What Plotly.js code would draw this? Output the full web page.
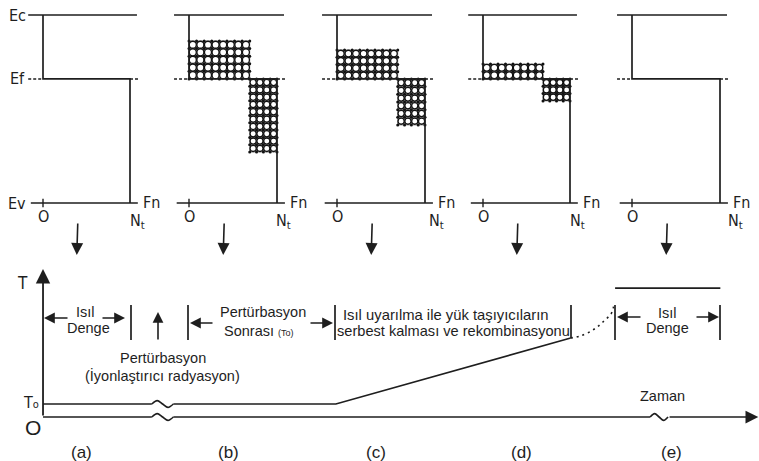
<!DOCTYPE html>
<html>
<head>
<meta charset="utf-8">
<script src="https://cdn.plot.ly/plotly-3.0.1.min.js"></script>
<style>html,body{margin:0;padding:0;background:#fff;}</style>
</head>
<body>
<div id="chart" style="width:759px;height:461px;"></div>
<script>
// ---------------- data ----------------
// Energy scale of the band panels: Ev = 0, Ec = 1
const levelNames = ['Ec', 'Ef', 'Ev'];
const levelValues = [1, 0.66, 0];
// trap occupancy runs from O to Nt
const Nt = 1;
const panelLabels = ['(a)', '(b)', '(c)', '(d)', '(e)'];
// highest energy reached by electron-filled traps (above Ef), per stage
const electronFillTop = [0.66, 0.862, 0.814, 0.739, 0.66];
// lowest energy reached by hole-filled traps (below Ef), per stage
const holeFillBottom = [0.66, 0.271, 0.415, 0.543, 0.66];
// occupancy where the electron and hole regions meet
const fillSplit = 0.69;

// Temperature history (T in units of T0, time in arbitrary units)
const holdTime = [0, 1.52, 1.82, 4.09, 7.37];
const holdTemp = [1, 1, 1, 1, 6.08];
const releaseTime = [7.37, 7.50, 7.68, 7.82, 7.95, 7.97];
const releaseTemp = [6.08, 6.23, 6.69, 7.31, 8.08, 8.69];
const equilibriumTime = [7.99, 9.46];
const equilibriumTemp = [9.92, 9.92];
// gaps on the time axis drawn as break marks [start, end]
const timeBreaks = [[1.52, 1.82], [8.48, 8.73]];
const timeEnd = 9.99;
const tempAxisTop = 11.38;

// ---------------- layout helpers ----------------
const W = 759, H = 461;
const px = x => x / W;
const py = y => 1 - y / H;
const INK = '#1e1e1e';
const SANS = 'Liberation Sans, Arial, Helvetica, sans-serif';
const NARROW = 'Liberation Sans Narrow, Arial Narrow, DejaVu Sans Condensed, Liberation Sans, sans-serif';

const panelLeft = [43, 189, 337, 483, 632];
const panelRight = [130, 277, 425, 570, 720];
const ntShift = [7, 6, 11, 7, 15];
const xRange = [-0.2, 1.2];
const eRange = [-0.0638, 1.0532];
const ePx = 188; // pixels per unit energy

const traces = [];
const shapes = [];
const annotations = [];
const layout = {
  width: W, height: H,
  margin: {l: 0, r: 0, t: 0, b: 0, pad: 0},
  paper_bgcolor: '#fff', plot_bgcolor: 'rgba(0,0,0,0)',
  showlegend: false, hovermode: false,
  yaxis: {domain: [py(215), py(5)], range: eRange, visible: false, fixedrange: true}
};

function line(xs, ys, xa, ya, extra) {
  traces.push(Object.assign({
    type: 'scatter', mode: 'lines', x: xs, y: ys, xaxis: xa, yaxis: ya,
    line: {color: INK, width: 1.7}, hoverinfo: 'skip', cliponaxis: false
  }, extra || {}));
}
function text(t, x, y, size, opts) {
  annotations.push(Object.assign({
    text: t, x: px(x), y: py(y), xref: 'paper', yref: 'paper', showarrow: false,
    font: {family: SANS, size: size, color: INK}, xanchor: 'center', yanchor: 'middle'
  }, opts || {}));
}
function arrow(xTip, yTip, xTail, yTail, size) {
  annotations.push({
    text: '', xref: 'paper', yref: 'paper', x: px(xTip), y: py(yTip),
    ax: xTail - xTip, ay: yTail - yTip, showarrow: true,
    arrowhead: 2, arrowsize: size || 1.4, arrowwidth: 1.6, arrowcolor: INK, standoff: 0
  });
}
function bar(x, y0, y1) {
  shapes.push({type: 'line', xref: 'paper', yref: 'paper', x0: px(x), x1: px(x),
    y0: py(y0), y1: py(y1), line: {color: INK, width: 1.7}});
}

// ---------------- band panels ----------------
const Ec = levelValues[0], Ef = levelValues[1], Ev = levelValues[2];
panelLabels.forEach((lab, i) => {
  const L = panelLeft[i], R = panelRight[i], Wp = R - L;
  const xa = i === 0 ? 'x' : 'x' + (i + 1);
  const key = i === 0 ? 'xaxis' : 'xaxis' + (i + 1);
  layout[key] = {domain: [px(L + xRange[0] * Wp), px(L + xRange[1] * Wp)], range: xRange,
    anchor: 'y', visible: false, fixedrange: true};

  // filled trap regions with a circle-mesh texture
  const boxes = [];
  if (electronFillTop[i] > Ef) boxes.push([0, fillSplit * Nt, Ef, electronFillTop[i]]);
  if (holeFillBottom[i] < Ef) boxes.push([fillSplit * Nt, Nt, holeFillBottom[i], Ef]);
  boxes.forEach(b => {
    shapes.push({type: 'rect', xref: xa, yref: 'y', x0: b[0], x1: b[1], y0: b[2], y1: b[3],
      fillcolor: '#8c8c8c', line: {color: '#9a9a9a', width: 1}, layer: 'below'});
    const wPx = (b[1] - b[0]) * Wp, hPx = (b[3] - b[2]) * ePx;
    const nc = Math.max(1, Math.round(wPx / 7.4)), nr = Math.max(1, Math.round(hPx / 7.4));
    const dx = (b[1] - b[0]) / nc, dy = (b[3] - b[2]) / nr;
    const cx = [], cy = [], jx = [], jy = [];
    for (let c = 0; c < nc; c++) for (let r = 0; r < nr; r++) {
      cx.push(b[0] + (c + 0.5) * dx); cy.push(b[2] + (r + 0.5) * dy);
    }
    for (let c = 0; c <= nc; c++) for (let r = 0; r <= nr; r++) {
      jx.push(b[0] + c * dx); jy.push(b[2] + r * dy);
    }
    const cell = Math.min(wPx / nc, hPx / nr);
    traces.push({type: 'scatter', mode: 'markers', x: cx, y: cy, xaxis: xa, yaxis: 'y',
      marker: {symbol: 'circle', size: cell - 0.6, color: '#fff', line: {color: '#111', width: 1.3}},
      hoverinfo: 'skip', cliponaxis: true});
    traces.push({type: 'scatter', mode: 'markers', x: jx, y: jy, xaxis: xa, yaxis: 'y',
      marker: {symbol: 'circle', size: 3, color: '#111'}, hoverinfo: 'skip', cliponaxis: true});
  });

  // Ec, Ef (dashed outside the step), Ev
  line([-0.17, 1.08], [Ec, Ec], xa, 'y');
  line([-0.17, 0], [Ef, Ef], xa, 'y', {line: {color: INK, width: 1.5, dash: '3px,2px'}});
  line([Nt, 1.11], [Ef, Ef], xa, 'y', {line: {color: INK, width: 1.5, dash: '3px,2px'}});
  line([-0.14, 1.09], [Ev, Ev], xa, 'y');
  // occupancy step: empty above Ef, full below
  line([0, 0, Nt, Nt], [Ec, Ef, Ef, Ev], xa, 'y');
  // origin tick
  line([0, 0], [Ev - 0.022, Ev + 0.022], xa, 'y', {line: {color: INK, width: 1.4}});

  const fa = {xref: xa, yref: 'y', showarrow: false, font: {family: NARROW, size: 16, color: INK}};
  annotations.push(Object.assign({}, fa, {text: 'Fn', x: 1.125, y: Ev, xanchor: 'left', yanchor: 'middle', yshift: 1}));
  annotations.push(Object.assign({}, fa, {text: 'N<sub>t</sub>', x: Nt, y: Ev, xanchor: 'center', yanchor: 'middle', xshift: ntShift[i], yshift: -18}));
  annotations.push(Object.assign({}, fa, {text: 'O', x: 0, y: Ev, xanchor: 'center', yanchor: 'middle', yshift: -13}));

  // stage arrow and stage label
  const ax = L + 0.4 * Wp;
  arrow(ax - 1, 255, ax, 222, 1.5);
  text(lab, ax + 4, 452, 17);
});

levelNames.forEach((n, k) => {
  annotations.push({text: n, x: px(17), y: levelValues[k], xref: 'paper', yref: 'y', showarrow: false,
    font: {family: NARROW, size: 16, color: INK}, xanchor: 'center', yanchor: 'middle'});
});

// ---------------- temperature vs time ----------------
layout.xaxis6 = {domain: [px(33), 1], range: [-0.14, 10.0], anchor: 'y2', visible: false, fixedrange: true};
layout.yaxis2 = {domain: [py(430), py(260)], range: [-1, 12.077], anchor: 'x6', visible: false, fixedrange: true};

function waveBreak(t0, t1, level) {
  const a = 0.26, w = t1 - t0;
  line([t0, t0 + 0.25 * w, t0 + 0.5 * w, t0 + 0.75 * w, t1], [level, level + a, level, level - a, level],
    'x6', 'y2', {line: {color: INK, width: 1.6, shape: 'spline'}});
}

// T0 hold, warming ramp
line(holdTime.slice(0, 2), holdTemp.slice(0, 2), 'x6', 'y2');
waveBreak(holdTime[1], holdTime[2], holdTemp[1]);
line(holdTime.slice(2), holdTemp.slice(2), 'x6', 'y2');
// release and recombination (dotted)
line(releaseTime, releaseTemp, 'x6', 'y2', {line: {color: INK, width: 1.6, dash: '2px,4px', shape: 'spline'}});
// final thermal equilibrium
line(equilibriumTime, equilibriumTemp, 'x6', 'y2');

// time axis with breaks
line([0, timeBreaks[0][0]], [0, 0], 'x6', 'y2');
waveBreak(timeBreaks[0][0], timeBreaks[0][1], 0);
line([timeBreaks[0][1], timeBreaks[1][0]], [0, 0], 'x6', 'y2');
waveBreak(timeBreaks[1][0], timeBreaks[1][1], 0);
annotations.push({text: '', xref: 'x6', yref: 'y2', axref: 'x6', ayref: 'y2',
  x: timeEnd, y: 0, ax: timeBreaks[1][1], ay: 0, showarrow: true,
  arrowhead: 2, arrowsize: 1.5, arrowwidth: 1.7, arrowcolor: INK, standoff: 0});
// temperature axis
annotations.push({text: '', xref: 'x6', yref: 'y2', axref: 'x6', ayref: 'y2',
  x: 0, y: tempAxisTop, ax: 0, ay: 0, showarrow: true,
  arrowhead: 2, arrowsize: 1.6, arrowwidth: 1.8, arrowcolor: INK, standoff: 0});

text('T', 22, 283, 17, {font: {family: NARROW, size: 17, color: INK}});
text('T<span style="font-size:11px">o</span>', 31, 402, 16, {font: {family: NARROW, size: 16, color: INK}});
text('O', 33, 427, 21);
text('Zaman', 662, 396, 14.5);

// stage brackets
arrow(44, 318, 69, 318, 1.35);
arrow(125, 318, 101, 318, 1.35);
text('Isıl', 85, 312, 14.5);
text('Denge', 88, 328, 14.5);
bar(131, 305, 340);
arrow(158, 312, 158, 341, 1.35);
text('Pertürbasyon', 163, 358, 14.5);
text('(İyonlaştırıcı radyasyon)', 162, 375, 14.5);
bar(188, 305, 340);
arrow(190, 323, 214, 323, 1.35);
text('Pertürbasyon', 263, 312, 14.5);
text('Sonrası <span style="font-size:9px">(To)</span>', 259, 331, 14.5);
arrow(333, 323, 309, 323, 1.35);
bar(335, 305, 340);
text('Isıl uyarılma ile yük taşıyıcıların', 446, 315, 14.8);
text('serbest kalması ve rekombinasyonu', 453, 331, 14.6);
bar(571, 305, 338);
bar(615, 305, 340);
arrow(617, 317, 642, 317, 1.35);
text('Isıl', 667, 313, 14.5);
text('Denge', 667, 328, 14.5);
arrow(719, 317, 695, 317, 1.35);
bar(720, 305, 340);

layout.shapes = shapes;
layout.annotations = annotations;

Plotly.newPlot('chart', traces, layout, {staticPlot: true, displayModeBar: false});
</script>
</body>
</html>
